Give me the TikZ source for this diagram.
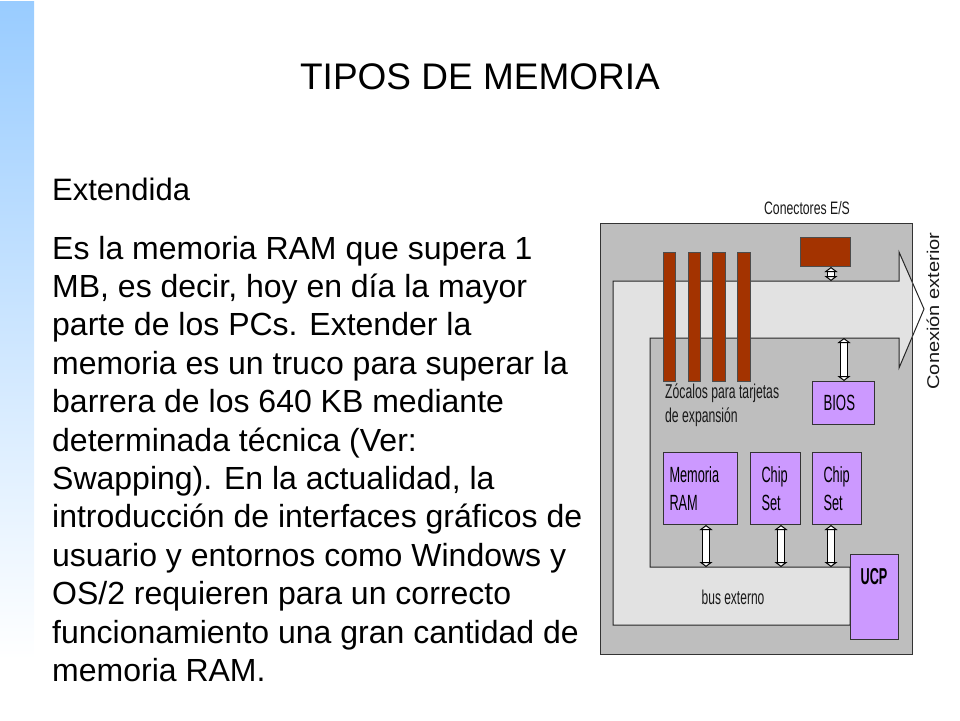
\documentclass[tikz,border=0pt]{standalone}
\usepackage{fontspec}
\setmainfont{Liberation Sans}
\usepackage{tikz}
\usetikzlibrary{positioning, arrows.meta}
\definecolor{barblue}{HTML}{99CCFF}
\definecolor{boardgray}{HTML}{BEBEBE}
\definecolor{busgray}{HTML}{E2E2E2}
\definecolor{slotred}{HTML}{A33300}
\definecolor{chippurple}{HTML}{CC99FF}
\newcommand{\squeezed}[2][.6]{\scalebox{#1}[1]{#2}}

\begin{document}
\begin{tikzpicture}[x=1pt, y=-1pt,
    board/.style = {draw=black!80, line width=1pt, fill=boardgray},
    bus/.style = {draw=black!85, line width=1pt},
    slot/.style = {draw=black!70, line width=.7pt, fill=slotred, anchor=north west, inner sep=0pt},
    chip/.style = {draw=black!80, line width=1pt, fill=chippurple, anchor=north west, inner sep=0pt, align=left, font=\fontsize{22}{28}\selectfont},
    link/.style = {draw=black, line width=1pt, double=white, double distance=5.5pt, {Triangle[fill=white, length=5pt, width=13pt]}-{Triangle[fill=white, length=5pt, width=13pt]}},
    tag/.style = {font=\fontsize{20}{24}\selectfont, inner sep=0pt, align=left, text=black!90}]
    \useasboundingbox (0,0) rectangle (960,720);
    \fill[bottom color=white, top color=barblue, shading angle=0] (0,1) rectangle (34,660);

    \node (title) at (480,77) {\fontsize{37}{40}\selectfont TIPOS DE MEMORIA};
    \node[anchor=north west, inner sep=0pt, align=left, font=\fontsize{32}{38.4}\selectfont] (body) at (52,178) {{\fontsize{31}{38.4}\selectfont Extendida}\\[20pt]
        Es la memoria RAM que supera 1\\
        MB, es decir, hoy en día la mayor\\
        parte de los PCs. Extender la\\
        memoria es un truco para superar la\\
        barrera de los 640 KB mediante\\
        determinada técnica (Ver:\\
        Swapping). En la actualidad, la\\
        introducción de interfaces gráficos de\\
        usuario y entornos como Windows y\\
        OS/2 requieren para un correcto\\
        funcionamiento una gran cantidad de\\
        memoria RAM.};

    \draw[board] (600,223) rectangle (912,654);
    \fill[busgray] (613,625) -- (613,281) -- (899,281) -- (899,252) -- (912,281.6) -- (912,337.3) -- (899,368) -- (899,338) -- (650,338) -- (650,567) -- (850,567) -- (850,625) -- cycle;
    \draw[bus] (613,625) -- (613,281) -- (899,281) -- (899,252) -- (924,309) -- (899,368) -- (899,338) -- (650,338) -- (650,567) -- (850,567) -- (850,625) -- cycle;
    \draw[black!70, densely dotted, line width=.5pt] (912,281.6) -- (912,337.3);

    \node[slot, minimum width=11.5pt, minimum height=129pt] (slot1) at (663,252) {};
    \node[slot, minimum width=11.5pt, minimum height=129pt] (slot2) at (688,252) {};
    \node[slot, minimum width=12.5pt, minimum height=129pt] (slot3) at (712,252) {};
    \node[slot, minimum width=12.5pt, minimum height=129pt] (slot4) at (737,252) {};
    \node[slot, line width=1pt, minimum width=50pt, minimum height=29pt] (conn) at (800,237) {};

    \node[chip, minimum width=62pt, minimum height=43pt, text width=40pt] (bios) at (812,381) {\squeezed{BIOS}};
    \node[chip, minimum width=74pt, minimum height=72pt, text width=62pt] (ram) at (663,452) {\squeezed[.58]{Memoria}\\\squeezed[.58]{RAM}};
    \node[chip, minimum width=50pt, minimum height=72pt, text width=28pt] (chipA) at (750,452) {\squeezed[.58]{Chip}\\\squeezed[.58]{Set}};
    \node[chip, minimum width=49pt, minimum height=72pt, text width=27pt] (chipB) at (812,452) {\squeezed[.58]{Chip}\\\squeezed[.58]{Set}};
    \node[chip, minimum width=48pt, minimum height=85pt] (ucp) at (850,554) {};
    \node[tag, font=\bfseries\fontsize{23}{26}\selectfont, text=black] (ucplabel) at (874,577) {\squeezed[.55]{UCP}};

    \coordinate (topA) at (831,281);
    \coordinate (topB) at (844,338);
    \coordinate (busA) at (706,567);
    \coordinate (busB) at (781,567);
    \coordinate (busC) at (831,567);

    \draw[link] (topA |- conn.south) -- (topA);
    \draw[link] (topB) -- (topB |- bios.north);
    \draw[link] (busA |- ram.south) -- (busA);
    \draw[link] (busB |- chipA.south) -- (busB);
    \draw[link] (busC |- chipB.south) -- (busC);

    \node[tag, font=\fontsize{18}{22}\selectfont] (ports) at (807,208) {\squeezed[.68]{Conectores E/S}};
    \node[tag, anchor=north west] (sockets) at (665,384) {\squeezed[.61]{Zócalos para tarjetas}\\\squeezed[.61]{de expansión}};
    \node[tag] (extbus) at (733,597) {\squeezed{bus externo}};
    \node[tag, rotate=90, font=\fontsize{17}{20}\selectfont] (outside) at (933,311) {\squeezed[1.18]{Conexión exterior}};
\end{tikzpicture}
\end{document}
